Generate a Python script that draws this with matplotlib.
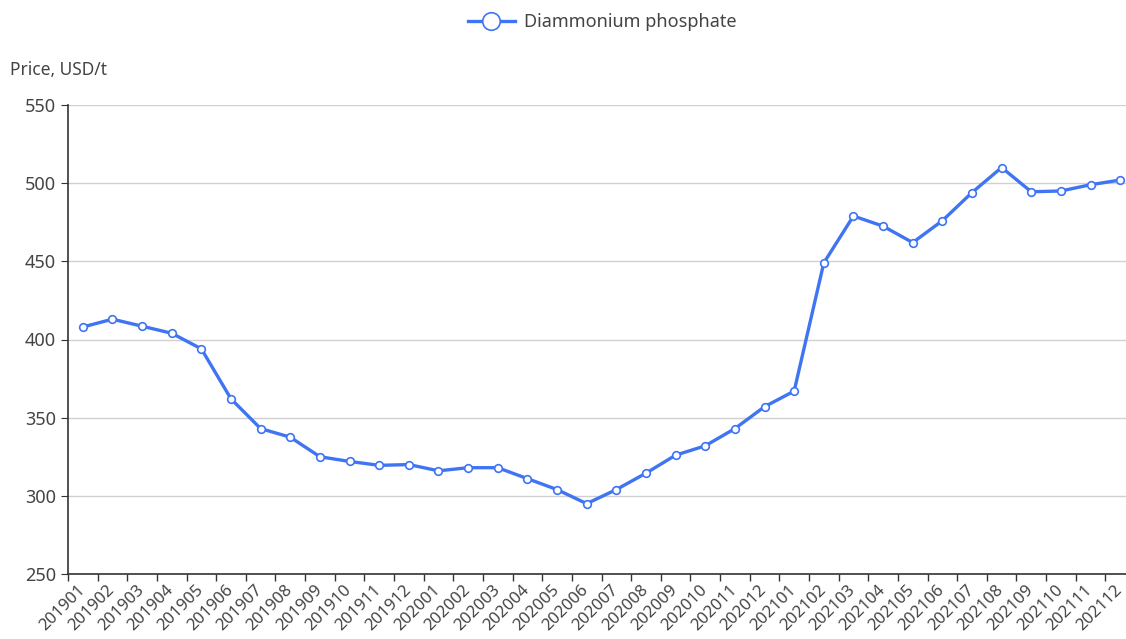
import matplotlib.pyplot as plt
import numpy as np

# Monthly DAP prices, USD/t
months = ["201901", "201902", "201903", "201904", "201905", "201906",
          "201907", "201908", "201909", "201910", "201911", "201912",
          "202001", "202002", "202003", "202004", "202005", "202006",
          "202007", "202008", "202009", "202010", "202011", "202012",
          "202101", "202102", "202103", "202104", "202105", "202106",
          "202107", "202108", "202109", "202110", "202111", "202112"]
prices = [408, 413, 408.5, 404, 394, 362,
          343, 337.5, 325, 322, 319.5, 320,
          316, 318, 318, 311, 304, 295,
          304, 314.5, 326, 332, 343, 357,
          367, 449, 479, 472.5, 462, 476,
          494, 510, 494.5, 495, 499, 502]
y_ticks = [250, 300, 350, 400, 450, 500, 550]

plt.rcParams['font.family'] = ['Noto Sans', 'DejaVu Sans']

fig = plt.figure(figsize=(11.26, 6.39), dpi=100)
ax = fig.add_axes([68 / 1126, 65 / 639, 1067 / 1126, 469 / 639])

x = np.arange(len(months))
ax.plot(x, prices, color='#3f74f2', linewidth=2.4, marker='o', markersize=5.5,
        markerfacecolor='white', markeredgecolor='#3f74f2', markeredgewidth=1.2,
        label='Diammonium phosphate', zorder=3)

ax.set_xlim(-0.5, len(months) - 0.5)
ax.set_ylim(250, 550)
ax.set_yticks(y_ticks)
ax.grid(axis='y', color='#d0d0d0', linewidth=1)
ax.set_axisbelow(True)

# category labels just left of centre, tick marks on boundaries
ax.set_xticks(x - 0.2)
ax.set_xticklabels(months, rotation=45, ha='right', rotation_mode='anchor',
                   fontsize=12, color='#444444')
ax.set_xticks(np.arange(len(months) + 1) - 0.5, minor=True)
ax.tick_params(axis='x', which='major', length=0, pad=6)
ax.tick_params(axis='x', which='minor', length=5, color='#333333', width=1)
ax.tick_params(axis='y', length=5, color='#333333', labelsize=13, labelcolor='#444444')

for side in ['top', 'right']:
    ax.spines[side].set_visible(False)
for side in ['left', 'bottom']:
    ax.spines[side].set_color('#333333')
    ax.spines[side].set_linewidth(1.2)

fig.text(10 / 1126, 1 - 70 / 639, 'Price, USD/t', fontsize=12.5, color='#444444', va='center')

leg = fig.legend(loc='center', bbox_to_anchor=(602 / 1126, 1 - 22 / 639), frameon=False,
                 fontsize=13, handlelength=2.6, handletextpad=0.5, markerscale=2.3)
for t in leg.get_texts():
    t.set_color('#444444')

fig.savefig('out.png', dpi=100)
